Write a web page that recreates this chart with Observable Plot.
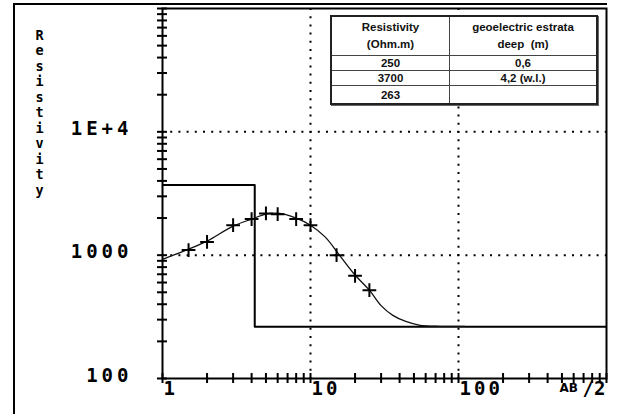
<!DOCTYPE html>
<html>
<head>
<meta charset="utf-8">
<script src="https://cdn.jsdelivr.net/npm/d3@7"></script>
<script src="https://cdn.jsdelivr.net/npm/@observablehq/plot@0.6"></script>
<style>
  body { margin: 0; background: #fff; }
  #wrap { position: relative; width: 632px; height: 414px; overflow: hidden; background: #fff; }
  #outer { position: absolute; left: 13px; top: 3px; width: 592px; height: 430px;
           border-left: 2px solid #000; border-top: 2px solid #000; pointer-events: none; }
  #tbl { position: absolute; left: 330px; top: 15px; width: 268px; height: 88px;
         border-collapse: collapse; background: #fff; border: 2px solid #222;
         box-shadow: 1px 1px 0 #666;
         font-family: "Liberation Sans", Arial, sans-serif; font-weight: bold; font-size: 11.5px; color: #111; }
  #tbl td, #tbl th { border: 1px solid #444; text-align: center; padding: 0; font-weight: bold; }
  #tbl th { line-height: 17px; height: 38px; }
  #tbl td { height: 14px; line-height: 14px; }
  #tbl tr:last-child td { height: 17px; }
  g[aria-label="y-axis tick label"] text { letter-spacing: 4px; }
  g[aria-label="x-axis tick label"] text, g[aria-label="slash two"] text { letter-spacing: 3px; }
</style>
</head>
<body>
<div id="wrap"></div>
<script>
// ---- data ----
const abHalf      = [1.5, 2, 3, 4, 5, 6, 8, 10, 15, 20, 25];
const apparentRho = [1100, 1280, 1750, 1960, 2180, 2150, 1960, 1750, 1000, 680, 520];

const curveAB  = [1, 1.5, 2, 3, 4, 5, 6, 8, 10, 12.6, 15.5, 20, 25, 30, 36, 44, 55, 75, 110];
const curveRho = [925, 1120, 1300, 1720, 1960, 2150, 2190, 2000, 1750, 1400, 1020, 690, 520, 390, 325, 290, 270, 265, 265];

const layerRho   = [250, 3700, 263];
const layerDepth = [0.6, 4.2];
const depthNote  = ["", " (w.l.)"];

const tableHeader = [["Resistivity", "(Ohm.m)"], ["geoelectric estrata", "deep  (m)"]];

const xTicks = [1, 10, 100];
const xTickLabels = ["1", "10", "100"];
const yTicks = [100, 1000, 10000];
const yTickLabels = ["100", "1000", "1E+4"];
const xGrid = [10, 100];
const yGrid = [1000, 10000];
const yTitle = "Resistivity";
const xTitleA = "AB";
const xTitleB = "/2";

// ---- derived tables ----
const points = abHalf.map((x, i) => ({x, y: apparentRho[i]}));
const curve = curveAB.map((x, i) => ({x, y: curveRho[i]}));
const step = [{x: 0.1, y: layerRho[0]}];
layerDepth.forEach((d, i) => { step.push({x: d, y: layerRho[i]}); step.push({x: d, y: layerRho[i + 1]}); });
step.push({x: 1000, y: layerRho[layerRho.length - 1]});

const mono = "'DejaVu Sans Mono', monospace";
const dotted = {stroke: "#000", strokeWidth: 2, strokeDasharray: "2,6.2"};

const chart = Plot.plot({
  width: 632, height: 414,
  marginLeft: 162, marginRight: 26, marginTop: 8, marginBottom: 36,
  x: {type: "log", domain: [1, 1000], axis: null},
  y: {type: "log", domain: [100, 100000], axis: null},
  style: {background: "transparent", overflow: "visible"},
  marks: [
    Plot.ruleX(xGrid, dotted),
    Plot.ruleY(yGrid, dotted),
    Plot.line(step, {x: "x", y: "y", stroke: "#000", strokeWidth: 2, clip: true}),
    Plot.line(curve, {x: "x", y: "y", stroke: "#111", strokeWidth: 1.3, curve: "catmull-rom"}),
    Plot.dot(points, {x: "x", y: "y", symbol: "plus", r: 4.5, stroke: "#000", strokeWidth: 2}),
    Plot.frame({stroke: "#000", strokeWidth: 2}),
    Plot.axisY({ticks: 40, tickSize: 10, dx: 5, strokeWidth: 2, tickFormat: () => "", label: null}),
    Plot.axisX({ticks: 40, tickSize: 10, dy: -5, strokeWidth: 2, tickFormat: () => "", label: null}),
    Plot.axisY(yTicks, {tickSize: 0, tickPadding: 30, dy: -3, label: null,
      tickFormat: d => yTickLabels[yTicks.indexOf(d)],
      fontFamily: mono, fontSize: 19, fontWeight: "bold", fill: "#000"}),
    Plot.axisX(xTicks, {tickSize: 0, tickPadding: 3, textAnchor: "start", dx: 1, label: null,
      tickFormat: d => xTickLabels[xTicks.indexOf(d)],
      fontFamily: mono, fontSize: 19, fontWeight: "bold", fill: "#000"}),
    Plot.text([xTitleB], {frameAnchor: "bottom-right", textAnchor: "start", lineAnchor: "top",
      dx: -24, dy: 3, fontFamily: mono, fontSize: 19, fontWeight: "bold", fill: "#000", ariaLabel: "slash two"}),
    Plot.text([xTitleA], {frameAnchor: "bottom-right", textAnchor: "start", lineAnchor: "top",
      dx: -47, dy: 5, fontFamily: "'DejaVu Sans', sans-serif", fontSize: 12, fontWeight: "bold", fill: "#000"}),
    Plot.text([yTitle.split("").join("\n")], {frameAnchor: "top-left", textAnchor: "middle", lineAnchor: "top",
      dx: -123, dy: 20, lineHeight: 1.15, fontFamily: mono, fontSize: 13.5, fontWeight: "bold", fill: "#000"})
  ]
});

const wrap = document.getElementById("wrap");
wrap.appendChild(chart);
const outer = document.createElement("div");
outer.id = "outer";
wrap.appendChild(outer);

// table
const tbl = document.createElement("table");
tbl.id = "tbl";
const hr = tbl.insertRow();
tableHeader.forEach(lines => {
  const th = document.createElement("th");
  th.innerHTML = lines.map(s => s.replace(/  /g, "&nbsp; ")).join("<br>");
  hr.appendChild(th);
});
hr.cells[0].style.width = "117px";
layerRho.forEach((r, i) => {
  const tr = tbl.insertRow();
  tr.insertCell().textContent = String(r);
  tr.insertCell().textContent = i < layerDepth.length ? String(layerDepth[i]).replace(".", ",") + depthNote[i] : "";
});
wrap.appendChild(tbl);
</script>
</body>
</html>
